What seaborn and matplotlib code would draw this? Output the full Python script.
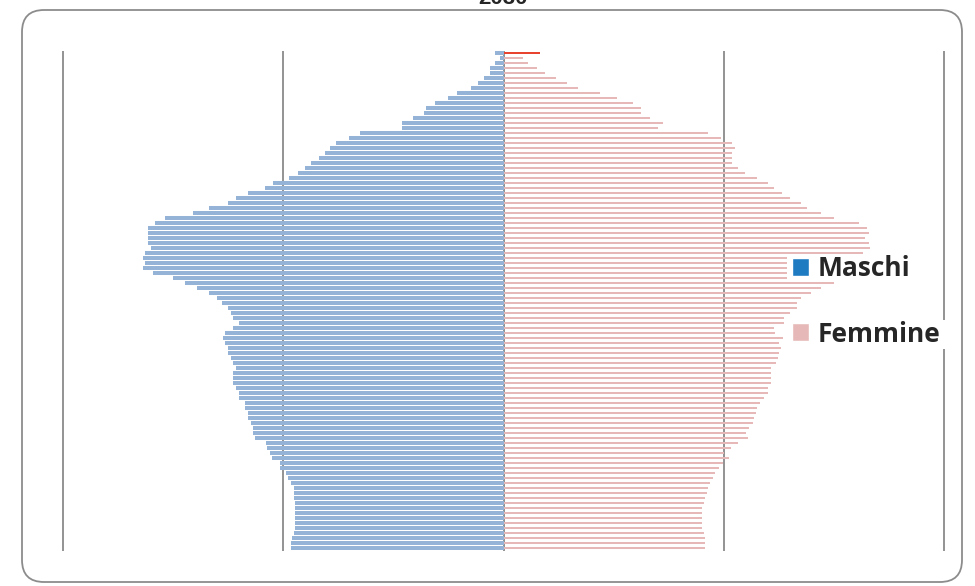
import pandas as pd
import seaborn as sns
import matplotlib.pyplot as plt
from matplotlib.patches import Patch, Rectangle, FancyBboxPatch
from matplotlib.transforms import IdentityTransform

# eta' (dall'alto: piu' anziani -> 0 anni), valori in migliaia
ages = [str(a) for a in range(99, -1, -1)]

maschi = [11, 5, 11, 18, 18, 27, 35, 44, 63, 76,
          93, 106, 109, 123, 138, 138, 195, 211, 228, 236,
          243, 252, 263, 271, 280, 292, 314, 325, 348, 365,
          376, 402, 423, 461, 475, 484, 485, 485, 485, 481,
          488, 491, 488, 491, 477, 451, 434, 417, 402, 390,
          383, 376, 372, 368, 361, 368, 379, 382, 379, 376,
          376, 372, 368, 365, 368, 368, 368, 365, 361, 361,
          352, 352, 348, 348, 344, 341, 341, 338, 323, 322,
          318, 315, 305, 304, 296, 293, 289, 286, 285, 285,
          284, 284, 284, 284, 284, 284, 286, 288, 290, 290]

femmine = [50, 26, 34, 45, 56, 72, 86, 102, 131, 155,
           176, 188, 188, 199, 218, 210, 278, 297, 311, 315,
           312, 312, 312, 319, 329, 346, 360, 368, 379, 391,
           405, 413, 432, 450, 484, 495, 498, 492, 498, 499,
           490, 496, 488, 484, 470, 457, 450, 432, 419, 405,
           400, 400, 391, 382, 382, 368, 370, 381, 375, 378,
           376, 374, 372, 364, 364, 364, 364, 361, 361, 355,
           350, 346, 344, 342, 340, 334, 330, 333, 320, 310,
           300, 307, 299, 293, 288, 285, 281, 278, 277, 274,
           273, 271, 271, 270, 270, 271, 273, 274, 275, 275]

blu = '#95B3D7'
rosa = '#E6B9B8'

sns.set_theme(style='white')
plt.rcParams['font.family'] = ['Open Sans', 'DejaVu Sans']

df = pd.DataFrame({'eta': ages,
                   'Maschi': [-v for v in maschi],
                   'Femmine': femmine})

fig = plt.figure(figsize=(9.75, 5.86), dpi=100)
ax = fig.add_axes([61 / 975, 1 - 550.5 / 586, 885 / 975, 500 / 586])

sns.barplot(data=df, x='Maschi', y='eta', orient='h', color=blu, width=0.9,
            saturation=1, linewidth=0, ax=ax, zorder=2)
n = len(ax.patches)
sns.barplot(data=df, x='Femmine', y='eta', orient='h', color=rosa, width=0.32,
            saturation=1, linewidth=0, ax=ax, zorder=2)
ax.patches[n].set_facecolor('#E8432F')

ax.set_xlim(-603, 603)
ax.set_ylim(99.5, -0.5)
ax.set_xticks([-600, -300, 0, 300, 600])
ax.grid(axis='x', color='#808080', linewidth=1.2)
ax.grid(axis='y', visible=False)
ax.set_axisbelow(True)
ax.tick_params(labelbottom=False, labelleft=False, length=0)
ax.set_xlabel('')
ax.set_ylabel('')
sns.despine(ax=ax, left=True, bottom=True)

# sfondo bianco dietro le due voci della legenda
for x0, y0, w, h in [(787, 254, 128, 28), (787, 320, 160, 29)]:
    fig.add_artist(Rectangle((x0, 586 - y0 - h), w, h, transform=IdentityTransform(),
                             facecolor='white', edgecolor='none', zorder=2))

handles = [Patch(facecolor='#1F7BC1', label='Maschi'),
           Patch(facecolor=rosa, label='Femmine')]
fig.legend(handles=handles, loc='upper left',
           bbox_to_anchor=(787 / 975, 1 - 250 / 586),
           frameon=False, borderpad=0.2, borderaxespad=0,
           handlelength=0.65, handleheight=0.65, handletextpad=0.3,
           labelspacing=1.45, prop={'weight': 'bold', 'size': 19})

fig.add_artist(FancyBboxPatch((22, 4), 940, 572,
                              boxstyle='round,pad=0,rounding_size=22',
                              transform=IdentityTransform(), fill=False,
                              edgecolor='#8c8c8c', linewidth=1.3))

fig.text(503 / 975, 1 - 4 / 586, '2030', ha='center', va='baseline',
         fontsize=16, fontweight='bold', family='Liberation Sans')

fig.savefig('out.png', dpi=100, facecolor='white')
